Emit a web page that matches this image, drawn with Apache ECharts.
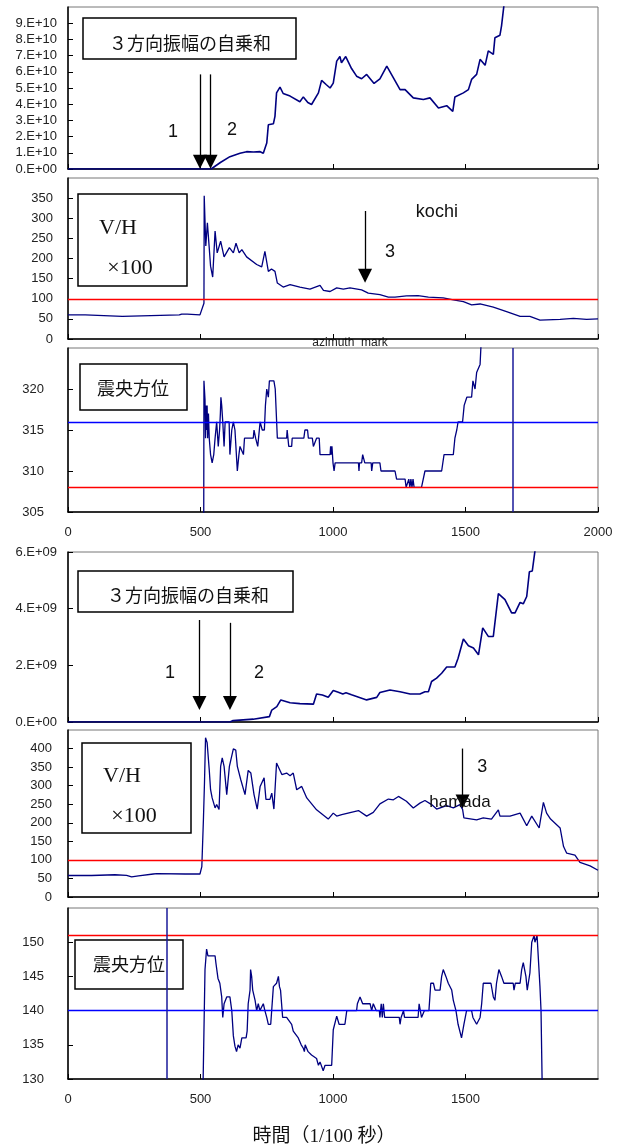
<!DOCTYPE html>
<html>
<head>
<meta charset="utf-8">
<script src="https://cdn.jsdelivr.net/npm/echarts@6/dist/echarts.min.js"></script>
<style>
  html, body { margin: 0; padding: 0; background: #fff; }
  #main { width: 623px; height: 1148px; }
</style>
</head>
<body>
<div id="main"></div>
<script>
// 3方向振幅の自乗和 (kochi) 単位 1e10
var energyKochi = [[0,0],[540,0],[547,0.05],[575,0.4],[611,0.76],[649,0.97],[674,1.07],[700,1.05],[725,1.07],[737,0.97],[750,1.6],[756,2.73],[775,2.79],[781,3.25],[787,4.7],[800,5.05],[812,4.66],[838,4.5],[875,4.15],[888,4.45],[905,4.1],[919,3.98],[945,4.7],[957,5.47],[975,5.2],[989,5.0],[1001,5.3],[1014,6.66],[1026,6.94],[1032,6.56],[1048,6.94],[1070,6.2],[1089,5.73],[1108,5.57],[1127,5.84],[1155,5.28],[1177,5.57],[1203,6.35],[1228,5.63],[1253,4.9],[1272,4.9],[1303,4.39],[1341,4.29],[1366,4.39],[1398,3.77],[1429,3.91],[1452,3.56],[1460,4.45],[1492,4.7],[1511,4.9],[1523,5.53],[1542,5.84],[1555,6.77],[1574,6.4],[1586,7.29],[1605,7.08],[1611,8.1],[1630,8.26],[1636,8.84],[1645,10.1],[1650,11]];

// V/H x100 (kochi)
var vhKochi = [[0,60],[65,60],[68,56],[205,56],[209,60],[420,60],[429,62],[450,62],[453,60],[498,60],[505,62],[513,89],[514,356],[520,231],[526,289],[532,235],[538,181],[546,154],[555,268],[563,214],[576,243],[589,204],[609,227],[624,214],[634,238],[646,214],[656,222],[674,204],[712,185],[731,179],[743,218],[756,168],[768,174],[781,168],[790,139],[812,129],[838,135],[875,129],[913,124],[951,133],[964,121],[989,118],[1014,127],[1039,124],[1064,127],[1108,122],[1133,114],[1177,110],[1209,104],[1234,104],[1277,107],[1321,108],[1360,104],[1416,102],[1454,97],[1492,93],[1523,85],[1555,87],[1605,79],[1655,68],[1706,56],[1743,56],[1781,47],[1857,49],[1907,51],[1957,49],[2000,50]];

// 震央方位 (kochi)
var azKochi = [[512,300],[513,321],[517,318.7],[519,314],[521,318],[523,315],[525,318],[527,314],[530,317],[533,314],[538,312],[544,311],[550,312],[555,314],[561,316],[567,313],[572,315],[575,317],[577,319],[580,318],[584,316],[589,313],[593,316],[608,316],[611,312],[615,312],[618,315],[624,316],[630,315],[639,310],[645,312],[649,313],[655,313],[662,312],[666,314],[699,314],[702,315],[706,315],[708,314],[712,314],[716,313],[722,313],[725,316],[728,316],[733,315],[741,315],[745,318],[750,320],[756,319],[760,321],[777,321],[782,320],[785,320],[790,314],[825,314],[827,315],[831,315],[833,313],[844,313],[846,314],[890,314],[894,315],[904,315],[907,314],[922,314],[926,313],[930,313],[938,314],[948,314],[951,312],[989,312],[991,313],[994,312],[996,313],[1000,311],[1004,310],[1008,311],[1096,311],[1098,310],[1100,311],[1108,311],[1112,312],[1114,312],[1120,311],[1144,311],[1146,310],[1150,311],[1177,311],[1181,310],[1234,310],[1240,309],[1272,309],[1276,308],[1282,308],[1286,309],[1290,308],[1294,309],[1298,308],[1302,309],[1306,308],[1334,308],[1347,310],[1410,310],[1419,312],[1454,312],[1460,314],[1467,315],[1472,316],[1489,316],[1495,318],[1505,319],[1523,319],[1528,321],[1532,321],[1536,320],[1540,320],[1542,322],[1548,322],[1555,323],[1561,327]];

// 3方向振幅の自乗和 (hamada) 単位 1e9
var energyHamada = [[0,0],[611,0],[623,0.05],[699,0.1],[760,0.19],[769,0.42],[788,0.54],[803,0.78],[838,0.68],[875,0.65],[926,0.63],[932,0.6],[938,0.99],[960,0.95],[982,0.87],[1001,1.11],[1020,1.05],[1037,0.99],[1049,1.03],[1070,0.96],[1089,0.9],[1127,0.78],[1165,0.87],[1177,1.04],[1215,1.13],[1253,1.07],[1291,0.99],[1328,0.99],[1347,1.07],[1360,1.07],[1372,1.43],[1391,1.55],[1410,1.72],[1429,1.94],[1460,1.94],[1472,2.25],[1492,2.93],[1511,2.69],[1530,2.61],[1549,2.37],[1565,3.32],[1586,3.02],[1605,3.02],[1624,4.53],[1649,4.32],[1674,3.85],[1687,3.85],[1706,4.22],[1718,4.17],[1731,4.43],[1741,5.3],[1752,5.33],[1762,6.03],[1770,6.6]];

// V/H x100 (hamada)
var vhHamada = [[0,58],[89,58],[96,61],[177,60],[221,58],[240,54],[266,57],[322,62],[335,63],[442,62],[498,62],[505,82],[511,208],[515,307],[519,429],[525,416],[533,343],[538,289],[544,267],[555,240],[561,249],[570,236],[576,352],[582,375],[589,352],[599,276],[609,352],[624,399],[633,396],[639,352],[652,316],[668,276],[680,341],[690,334],[702,276],[714,237],[725,298],[740,321],[747,263],[762,263],[769,280],[777,237],[787,361],[807,330],[825,334],[838,327],[850,334],[863,289],[882,298],[901,267],[938,235],[982,210],[1001,226],[1014,218],[1033,222],[1096,233],[1127,218],[1152,228],[1177,251],[1209,264],[1228,262],[1247,271],[1277,258],[1303,240],[1328,253],[1347,260],[1372,249],[1391,237],[1429,246],[1454,240],[1479,249],[1489,236],[1494,213],[1542,208],[1567,213],[1598,210],[1624,235],[1630,218],[1668,218],[1706,226],[1731,192],[1750,218],[1778,186],[1794,255],[1806,226],[1821,210],[1857,186],[1870,136],[1882,118],[1913,113],[1932,93],[1970,84],[2000,72]];

// 震央方位 (hamada)
var azHamada = [[505,120],[510,130],[513,137],[517,146],[523,149],[528,148],[555,148],[558,147],[566,144.7],[573,144],[580,142],[584,139],[589,141],[599,142],[611,142],[618,140],[624,136.3],[630,134.8],[636,134],[642,135],[649,134.5],[656,136],[672,136],[676,137],[680,141],[687,143],[689,146],[693,145],[697,143],[706,141.5],[712,140],[718,141],[724,140],[737,141],[743,140],[750,139],[756,138],[765,138],[775,143.5],[787,144],[794,145],[798,143.5],[802,143],[810,139],[825,139],[844,138],[850,137],[857,137],[869,136],[880,135],[888,134.5],[892,134],[895,135],[901,135],[906,134],[913,134],[919,133.5],[938,133],[945,132],[951,132.5],[963,131.2],[970,132],[995,132],[1001,137.2],[1014,139.2],[1023,138],[1045,138],[1052,140],[1089,140],[1092,141],[1099,141],[1102,142],[1108,142],[1112,141],[1140,141],[1146,140],[1152,141],[1158,141],[1163,140],[1175,140],[1177,139],[1182,141],[1186,139],[1190,141],[1195,139],[1250,139],[1253,138],[1257,139],[1266,140],[1270,139],[1321,139],[1325,141],[1330,141],[1334,139],[1341,139],[1345,140],[1362,140],[1369,144],[1379,144],[1385,143],[1404,143],[1410,145],[1416,146],[1422,146],[1426,145],[1435,144],[1448,143],[1454,141.5],[1464,140],[1472,138],[1485,136],[1494,138],[1504,140],[1523,140],[1528,139],[1542,138],[1555,139],[1561,141],[1567,144],[1596,144],[1605,142],[1611,141.5],[1617,144],[1626,146],[1636,145],[1645,144],[1680,144],[1683,143],[1688,144],[1706,144],[1712,146],[1718,147],[1728,145],[1733,143],[1737,143],[1743,145.5],[1750,150],[1759,151],[1762,150],[1766,150],[1770,151],[1775,151],[1781,143.5],[1785,140],[1791,125]];

var xTicks = [0, 500, 1000, 1500, 2000];

function scale(arr, k) {
  return arr.map(function (p) { return [p[0], p[1] * k]; });
}

var NAVY = '#000080';
var labelFont = 'Liberation Sans';

var grids = [
  {left: 68, top: 7,   width: 530, height: 162},
  {left: 68, top: 178, width: 530, height: 161},
  {left: 68, top: 348, width: 530, height: 164},
  {left: 68, top: 552, width: 530, height: 170},
  {left: 68, top: 730, width: 530, height: 167},
  {left: 68, top: 908, width: 530, height: 171}
].map(function (g) {
  g.show = true; g.borderColor = '#777'; g.borderWidth = 1;
  return g;
});

function xAx(i, showLabel, showMax) {
  return {
    type: 'value', gridIndex: i, min: xTicks[0], max: xTicks[xTicks.length - 1], interval: 500,
    axisLine: {show: true, onZero: false, lineStyle: {color: '#000', width: 1.5}},
    axisTick: {show: true, inside: true, length: 5, lineStyle: {color: '#000'}},
    axisLabel: {show: showLabel, color: '#222', fontSize: 13, fontFamily: labelFont, margin: 14,
                showMaxLabel: showMax, showMinLabel: true, formatter: function (v) { return String(v); }},
    splitLine: {show: false}
  };
}

function yAx(i, min, max, interval, fmt, margin, showMax) {
  return {
    type: 'value', gridIndex: i, min: min, max: max, interval: interval,
    axisLine: {show: true, onZero: false, lineStyle: {color: '#000', width: 1.5}},
    axisTick: {show: true, inside: true, length: 5, lineStyle: {color: '#000'}},
    axisLabel: {color: '#222', fontSize: 13, fontFamily: labelFont, margin: margin, showMaxLabel: showMax, showMinLabel: true,
                formatter: fmt || function (v) { return String(v); }},
    splitLine: {show: false}
  };
}

function sciFmt(exp) {
  return function (v) {
    if (v === 0) return '0.E+00';
    return Math.round(v / Math.pow(10, exp)) + '.E+' + (exp < 10 ? '0' + exp : exp);
  };
}

function refLines(items) {
  return {
    silent: true, symbol: 'none', animation: false,
    label: {show: false},
    data: items.map(function (it) {
      var d = {lineStyle: {color: it.color, width: it.width || 1.3, type: 'solid'}};
      if (it.y !== undefined) d.yAxis = it.y; else d.xAxis = it.x;
      return d;
    })
  };
}

function arrows(list) {
  return {
    silent: true, symbol: ['none', 'triangle'], symbolSize: 14, animation: false,
    label: {show: false},
    lineStyle: {color: '#000', width: 1.3, type: 'solid'},
    data: list.map(function (a) {
      return [{coord: [a[0], a[1]]}, {coord: [a[0], a[2]]}];
    })
  };
}

function notes(list, size) {
  return {
    silent: true, symbol: 'circle', symbolSize: 1, animation: false,
    itemStyle: {color: 'rgba(0,0,0,0)'},
    label: {show: true, position: 'inside', formatter: '{b}', color: '#111', fontSize: size || 18, fontFamily: labelFont},
    data: list.map(function (n) { return {name: n[0], coord: [n[1], n[2]]}; })
  };
}

function lineSeries(i, data, width, extra) {
  var s = {
    type: 'line', xAxisIndex: i, yAxisIndex: i, data: data,
    showSymbol: false, symbol: 'none', animation: false, clip: true,
    lineStyle: {color: NAVY, width: width}
  };
  for (var k in extra) s[k] = extra[k];
  return s;
}

function helper(i, extra) {
  var s = {type: 'line', xAxisIndex: i, yAxisIndex: i, data: [], animation: false, symbol: 'none'};
  for (var k in extra) s[k] = extra[k];
  return s;
}

function box(x, y, w, h, lines) {
  var children = [{
    type: 'rect', shape: {x: x, y: y, width: w, height: h},
    style: {fill: '#fff', stroke: '#000', lineWidth: 1.5}
  }];
  lines.forEach(function (t) {
    children.push({
      type: 'text', x: t.x, y: t.y,
      style: {text: t.text, fontSize: t.size, fontFamily: t.font, fill: '#111', align: 'center', verticalAlign: 'middle'}
    });
  });
  return {type: 'group', children: children};
}

var jpFont = '"Noto Sans CJK JP", sans-serif';
var serif = '"Liberation Serif", "Noto Sans CJK JP", serif';

var option = {
  backgroundColor: '#fff',
  animation: false,
  grid: grids,
  xAxis: [xAx(0, false, false), xAx(1, false, false), xAx(2, true, true), xAx(3, false, false), xAx(4, false, false), xAx(5, true, false)],
  yAxis: [
    yAx(0, 0, 1e11, 1e10, sciFmt(10), 11, false),
    yAx(1, 0, 400, 50, null, 15, false),
    yAx(2, 305, 325, 5, null, 24, false),
    yAx(3, 0, 6e9, 2e9, sciFmt(9), 11, true),
    yAx(4, 0, 450, 50, null, 16, false),
    yAx(5, 130, 155, 5, null, 24, false)
  ],
  series: [
    lineSeries(0, scale(energyKochi, 1e10), 1.6, {}),
    helper(0, {markLine: arrows([[498, 5.84e10, 0.45e10], [538, 5.84e10, 0.45e10]]),
               markPoint: notes([['1', 396, 2.3e10], ['2', 619, 2.42e10]])}),

    lineSeries(1, vhKochi, 1.3, {markLine: refLines([{y: 100, color: '#ff0000'}])}),
    helper(1, {markLine: arrows([[1121, 318, 157]]),
               markPoint: notes([['3', 1215, 217], ['kochi', 1392, 315]])}),

    lineSeries(2, azKochi, 1.3, {markLine: refLines([
      {y: 316, color: '#0000ff'}, {y: 308, color: '#ff0000'}, {x: 1680, color: '#1a1a9a', width: 1.5}])}),

    lineSeries(3, scale(energyHamada, 1e9), 1.6, {}),
    helper(3, {markLine: arrows([[496, 3.6e9, 0.67e9], [611, 3.5e9, 0.67e9]]),
               markPoint: notes([['1', 385, 1.73e9], ['2', 721, 1.73e9]])}),

    lineSeries(4, vhHamada, 1.3, {markLine: refLines([{y: 100, color: '#ff0000'}])}),
    helper(4, {markPoint: notes([['hamada', 1479, 254]], 17)}),
    helper(4, {markLine: arrows([[1489, 400, 257]]),
               markPoint: notes([['3', 1563, 349]])}),

    lineSeries(5, azHamada, 1.3, {markLine: refLines([
      {y: 151, color: '#ff0000'}, {y: 140, color: '#0000ff'}, {x: 372, color: '#1a1a9a', width: 1.5}])})
  ],
  graphic: [
    box(83, 18, 213, 41, [{text: '３方向振幅の自乗和', x: 190, y: 43, size: 18, font: jpFont}]),
    box(78, 194, 109, 92, [{text: 'V/H', x: 118, y: 228, size: 22, font: serif}, {text: '×100', x: 130, y: 268, size: 22, font: serif}]),
    box(80, 364, 107, 46, [{text: '震央方位', x: 133, y: 388, size: 18, font: jpFont}]),
    box(78, 571, 215, 41, [{text: '３方向振幅の自乗和', x: 188, y: 595, size: 18, font: jpFont}]),
    box(82, 743, 109, 90, [{text: 'V/H', x: 122, y: 776, size: 22, font: serif}, {text: '×100', x: 134, y: 816, size: 22, font: serif}]),
    box(75, 940, 108, 49, [{text: '震央方位', x: 129, y: 964, size: 18, font: jpFont}]),
    {type: 'text', x: 350, y: 343, style: {text: 'azimuth  mark', fontSize: 12, fontFamily: labelFont, fill: '#222', align: 'center', verticalAlign: 'middle'}},
    {type: 'text', x: 324, y: 1137, style: {text: '時間（1/100 秒）', fontSize: 19, fontFamily: serif, fill: '#111', align: 'center', verticalAlign: 'middle'}}
  ]
};

var chart = echarts.init(document.getElementById('main'));
chart.setOption(option);
</script>
</body>
</html>
